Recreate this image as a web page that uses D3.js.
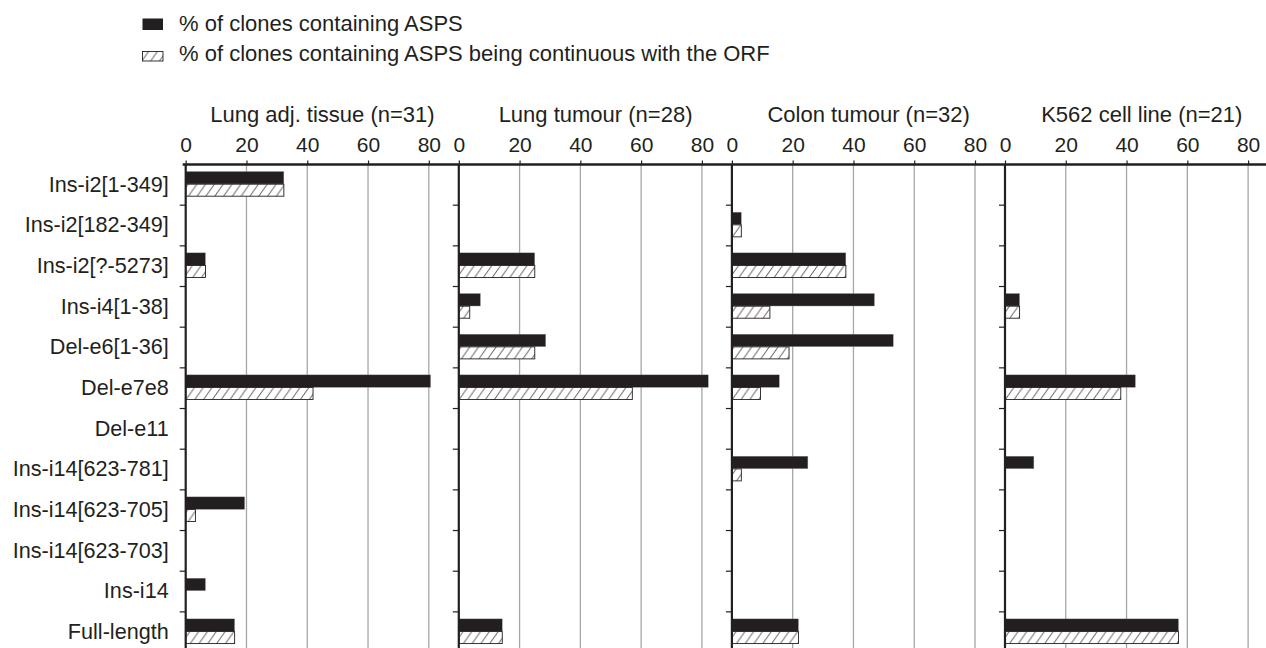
<!DOCTYPE html>
<html><head><meta charset="utf-8">
<script src="https://cdn.jsdelivr.net/npm/d3@7"></script>
<style>
html,body{margin:0;padding:0;background:#fff;}
svg{display:block;}
text{font-family:"Liberation Sans",Arial,Helvetica,sans-serif;fill:#231f20;}
</style></head>
<body>
<svg id="chart" width="1266" height="648"></svg>
<script>
const categories = ["Ins-i2[1-349]","Ins-i2[182-349]","Ins-i2[?-5273]","Ins-i4[1-38]","Del-e6[1-36]","Del-e7e8","Del-e11","Ins-i14[623-781]","Ins-i14[623-705]","Ins-i14[623-703]","Ins-i14","Full-length"];
const panels = ["Lung adj. tissue (n=31)","Lung tumour (n=28)","Colon tumour (n=32)","K562 cell line (n=21)"];
const seriesNames = ["% of clones containing ASPS","% of clones containing ASPS being continuous with the ORF"];
// % of clones containing ASPS, per panel, per category
const aspsValues = [
  [32.3, 0, 6.5, 0, 0, 80.6, 0, 0, 19.4, 0, 6.5, 16.1],
  [0, 0, 25.0, 7.1, 28.6, 82.1, 0, 0, 0, 0, 0, 14.3],
  [0, 3.1, 37.5, 46.9, 53.1, 15.6, 0, 25.0, 0, 0, 0, 21.9],
  [0, 0, 0, 4.8, 0, 42.9, 0, 9.5, 0, 0, 0, 57.1]
];
// % of clones containing ASPS being continuous with the ORF
const orfValues = [
  [32.3, 0, 6.5, 0, 0, 41.9, 0, 0, 3.2, 0, 0, 16.1],
  [0, 0, 25.0, 3.6, 25.0, 57.1, 0, 0, 0, 0, 0, 14.3],
  [0, 3.1, 37.5, 12.5, 18.8, 9.4, 0, 3.1, 0, 0, 0, 21.9],
  [0, 0, 0, 4.8, 0, 38.1, 0, 0, 0, 0, 0, 57.1]
];
const xTicks = [0, 20, 40, 60, 80];

const W = 1266, H = 648;
const svg = d3.select("#chart");
const ink = "#231f20";
const axisY = 164.5;
const panelLeft = 185.7, panelStep = 273.1, panelW = 273.5;
const bandH = 40.67;
const FONT = '"Liberation Sans",Arial,Helvetica,sans-serif';

const defs = svg.append("defs");
const pat = defs.append("pattern").attr("id","hatch").attr("patternUnits","userSpaceOnUse")
  .attr("width", 8.8).attr("height", 12.5);
pat.append("rect").attr("width",8.8).attr("height",12.5).attr("fill","#fff");
pat.append("path").attr("d","M0,12.5 L8.8,0 M-1,1.42 L1,-1.42 M7.8,13.92 L9.8,11.08")
  .attr("stroke", ink).attr("stroke-width", 0.8);

const y = d3.scaleBand().domain(categories).range([axisY, axisY + bandH*categories.length]).padding(0);
const x = d3.scaleLinear().domain([0, 90]).range([0, panelW]);
const px = d3.scaleLinear().domain([0, 1]).range([panelLeft, panelLeft + panelStep]);

// legend
const leg = svg.append("g");
seriesNames.forEach((s, i) => {
  const base = 31 + i*30;
  leg.append("rect").attr("x", 142.5).attr("y", i === 0 ? 18.5 : 51.5).attr("width", 20.5).attr("height", i === 0 ? 11.5 : 9.5)
    .attr("fill", i === 0 ? ink : "url(#hatch)").attr("stroke", i === 0 ? "none" : ink).attr("stroke-width", 0.9);
  leg.append("text").attr("x", 179).attr("y", base).attr("font-size", 22).text(s);
});

// gridlines, bars, axes per panel
panels.forEach((title, p) => {
  const g = svg.append("g").attr("transform", `translate(${px(p)},0)`);
  g.selectAll("line.grid").data(xTicks.filter(t => t > 0)).join("line")
    .attr("class","grid").attr("x1", d => x(d)).attr("x2", d => x(d))
    .attr("y1", axisY).attr("y2", H).attr("stroke", "#a6a6a6").attr("stroke-width", 1.3);
  g.selectAll("rect.asps").data(categories.map((c, i) => ({c, v: aspsValues[p][i]})).filter(d => d.v > 0)).join("rect")
    .attr("class","asps").attr("x", 0).attr("y", d => y(d.c) + 7).attr("width", d => x(d.v)).attr("height", 12.5)
    .attr("fill", ink).attr("stroke", "#9a9a9a").attr("stroke-width", 0.4);
  g.selectAll("rect.orf").data(categories.map((c, i) => ({c, v: orfValues[p][i]})).filter(d => d.v > 0)).join("rect")
    .attr("class","orf").attr("x", 0).attr("y", d => y(d.c) + 19.7).attr("width", d => x(d.v)).attr("height", 12)
    .attr("fill", "url(#hatch)").attr("stroke", ink).attr("stroke-width", 0.9);
  const ax = g.append("g").attr("transform", `translate(0,${axisY})`)
    .call(d3.axisTop(x).tickValues(xTicks).tickSize(4).tickPadding(9).tickFormat(d3.format("d")));
  ax.select(".domain").remove();
  ax.selectAll(".tick line").attr("stroke", ink).attr("stroke-width", 1.2);
  ax.selectAll(".tick text").attr("font-size", 21).attr("fill", ink).attr("font-family", FONT);
  g.append("line").attr("x1", 0).attr("x2", 0).attr("y1", axisY).attr("y2", H)
    .attr("stroke", ink).attr("stroke-width", 2.2);
  g.selectAll("line.yt").data(categories.slice(1)).join("line").attr("class","yt")
    .attr("x1", -6).attr("x2", 0).attr("y1", d => y(d)).attr("y2", d => y(d))
    .attr("stroke", ink).attr("stroke-width", 1.2);
  g.append("text").attr("x", x(45)).attr("y", 122).attr("text-anchor", "middle")
    .attr("font-size", 22).text(title);
});

svg.append("line").attr("x1", panelLeft - 3).attr("x2", W).attr("y1", axisY).attr("y2", axisY)
  .attr("stroke", ink).attr("stroke-width", 2.4);

const yAx = svg.append("g").attr("transform", `translate(${panelLeft - 17},0)`)
  .call(d3.axisLeft(y).tickSize(0).tickPadding(0));
yAx.select(".domain").remove();
yAx.selectAll(".tick text").attr("font-size", 21.6).attr("fill", ink).attr("font-family", FONT);
</script>
</body></html>
